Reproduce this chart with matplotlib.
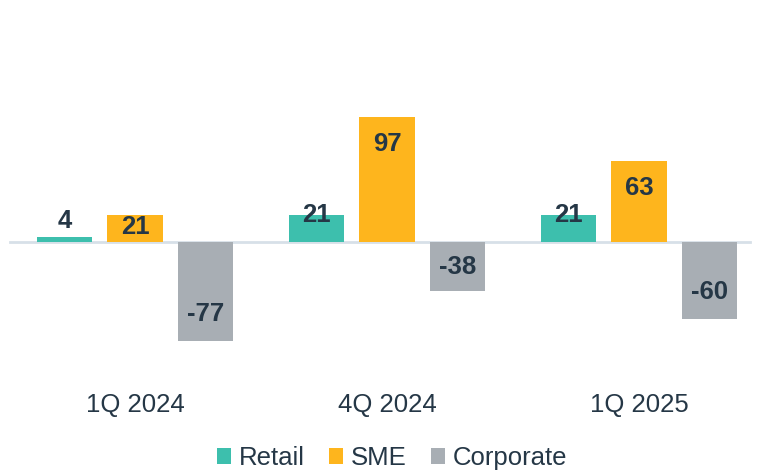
import matplotlib
matplotlib.use("Agg")
import matplotlib.pyplot as plt
from matplotlib.patches import Patch

# Quarterly volume change by segment
quarters = ["1Q 2024", "4Q 2024", "1Q 2025"]
series = ["Retail", "SME", "Corporate"]
retail = [4, 21, 21]
sme = [21, 97, 63]
corporate = [-77, -38, -60]

colors = ["#3DBFAD", "#FEB51D", "#A8AEB4"]
text_color = "#253746"
font = ["Liberation Sans", "DejaVu Sans"]

W, H, DPI = 759, 473, 100
fig = plt.figure(figsize=(W / DPI, H / DPI), dpi=DPI)
ax = fig.add_axes([0, 0, 1, 1])

# pixel-based layout helpers (group spacing 252 px, 1.29 px per unit)
px_per_group = 252.0
px_per_unit = 1.29
zero_px = 242.0
first_center_px = 135.0

ax.set_xlim(-first_center_px / px_per_group, (W - first_center_px) / px_per_group)
ax.set_ylim(-(H - zero_px) / px_per_unit, zero_px / px_per_unit)
ax.axis("off")

bar_w = 55.5 / px_per_group
step = 70.5 / px_per_group

values = [retail, sme, corporate]
for s, (vals, col) in enumerate(zip(values, colors)):
    xs = [i + (s - 1) * step for i in range(len(quarters))]
    ax.bar(xs, vals, width=bar_w, color=col, linewidth=0, zorder=2)

# zero line
ax.axhline(0, xmin=10 / W, xmax=750 / W, color="#D7E0E8", lw=2, zorder=1)

# value labels
nudge = {(0, 1): -12}
for s, vals in enumerate(values):
    for i, v in enumerate(vals):
        x = i + (s - 1) * step
        if abs(v) > 45:
            off = -27 if v > 0 else 27
            y = v
        elif v > 10:
            off = 0
            y = v
        elif v > 0:
            off = 16
            y = v
        else:
            off = 0
            y = v / 2.0
        off += nudge.get((i, s), 0)
        ax.annotate(str(v), (x, y), xytext=(0, off * 72 / DPI),
                    textcoords="offset points", ha="center", va="center",
                    fontsize=18.5, fontweight="bold", color=text_color,
                    family=font, zorder=3)

# category labels
cat_y = -(405 - zero_px) / px_per_unit
for i, q in enumerate(quarters):
    ax.text(i, cat_y, q, ha="center", va="center", fontsize=18.5,
            color=text_color, family=font)

handles = [Patch(facecolor=c, edgecolor="none", label=n) for c, n in zip(colors, series)]
leg = ax.legend(handles=handles, loc="center", bbox_to_anchor=(392 / W, 1 - 458 / H),
                ncol=3, frameon=False, handlelength=0.55, handleheight=0.55,
                handletextpad=0.3, columnspacing=0.95,
                prop={"family": font, "size": 18.5})
for t in leg.get_texts():
    t.set_color(text_color)

fig.savefig("out.png", dpi=DPI)
